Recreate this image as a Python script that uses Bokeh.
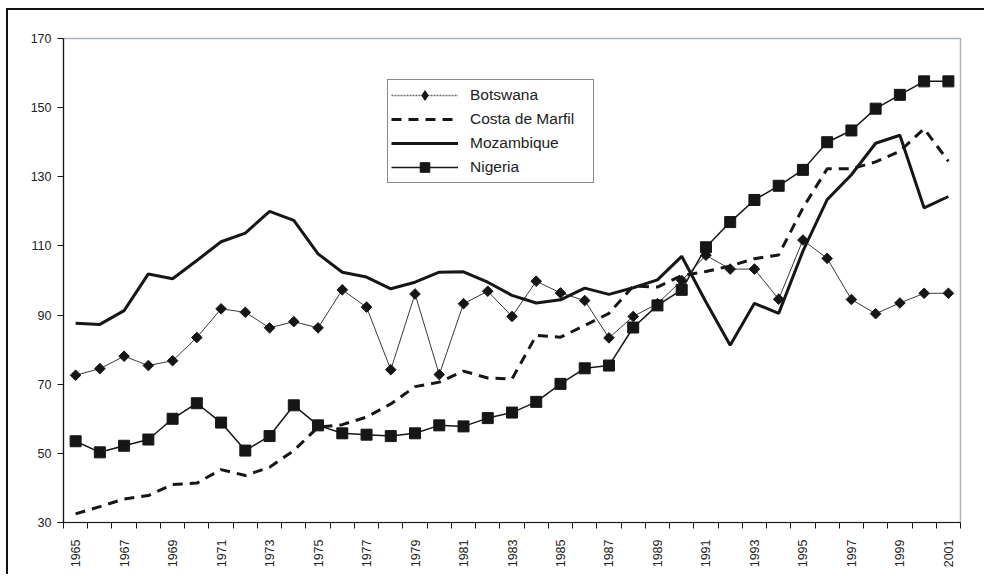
import math
from bokeh.plotting import figure
from bokeh.models import Range1d, FixedTicker, Legend, LegendItem
from bokeh.embed import file_html
from bokeh.resources import INLINE

years = list(range(1965, 2002))

botswana = [72.6, 74.5, 78.1, 75.4, 76.8, 83.5, 91.8, 90.8, 86.3, 88.1,
            86.3, 97.3, 92.3, 74.2, 96.1, 72.8, 93.3, 96.9, 89.6, 99.8,
            96.4, 94.2, 83.4, 89.6, 93.3, 100.0, 107.3, 103.3, 103.3, 94.6,
            111.7, 106.4, 94.5, 90.4, 93.5, 96.3, 96.3]

costa_de_marfil = [32.5, 34.6, 36.8, 37.8, 41.0, 41.4, 45.3, 43.6, 46.0, 50.8,
                   57.6, 58.3, 60.5, 64.3, 69.3, 70.6, 73.8, 71.8, 71.5, 84.1,
                   83.6, 87.0, 90.5, 98.4, 98.1, 101.4, 102.6, 104.2, 106.3, 107.4,
                   121.0, 132.3, 132.3, 134.3, 137.4, 143.9, 134.5]

mozambique = [87.6, 87.3, 91.3, 101.9, 100.5, 105.8, 111.2, 113.7, 120.0, 117.4,
              107.7, 102.4, 101.0, 97.6, 99.5, 102.4, 102.5, 99.5, 95.7, 93.5,
              94.4, 97.8, 96.0, 97.9, 100.2, 107.0, 93.8, 81.3, 93.4, 90.5,
              108.5, 123.4, 130.6, 139.7, 142.0, 121.0, 124.3]

nigeria = [53.5, 50.3, 52.2, 54.0, 60.0, 64.5, 58.9, 50.8, 55.0, 63.9,
           58.1, 55.8, 55.4, 55.0, 55.8, 58.1, 57.8, 60.2, 61.8, 64.9,
           70.1, 74.6, 75.4, 86.4, 92.8, 97.3, 109.6, 116.9, 123.3, 127.4,
           132.0, 140.0, 143.4, 149.7, 153.7, 157.6, 157.6]

x_labels = [y for y in years if (y - 1965) % 2 == 0]
y_ticks = [30, 50, 70, 90, 110, 130, 150, 170]

FONT = "Liberation Sans"
INK = "#161616"

p = figure(width=978, height=566, output_backend="svg", toolbar_location=None,
           x_range=Range1d(years[0] - 0.5, years[-1] + 0.5),
           y_range=Range1d(y_ticks[0], y_ticks[-1]),
           min_border_left=55, min_border_right=26,
           min_border_top=28, min_border_bottom=54)
p.styles = {"margin-left": "6px", "margin-top": "8px",
            "border-left": "2px solid #111", "border-top": "2px solid #111"}

p.xgrid.visible = False
p.ygrid.visible = False
p.outline_line_color = "#aab2ba"
p.outline_line_width = 1.5
p.background_fill_color = "white"
p.border_fill_color = "white"

# x axis: category-style, ticks between categories, labels every other year
p.xaxis.ticker = FixedTicker(ticks=x_labels,
                             minor_ticks=[y - 0.5 for y in years] + [years[-1] + 0.5])
p.xaxis.major_label_overrides = {y: str(y) for y in x_labels}
p.xaxis.major_tick_line_color = None
p.xaxis.major_tick_out = 6
p.xaxis.major_tick_in = 0
p.xaxis.minor_tick_out = 6
p.xaxis.minor_tick_in = 0
p.xaxis.minor_tick_line_color = INK
p.xaxis.axis_line_color = INK
p.xaxis.axis_line_width = 1.2
p.xaxis.major_label_orientation = math.pi / 2
p.xaxis.major_label_standoff = 11

p.yaxis.ticker = FixedTicker(ticks=y_ticks)
p.yaxis.minor_tick_line_color = None
p.yaxis.major_tick_out = 6
p.yaxis.major_tick_in = 0
p.yaxis.major_tick_line_color = INK
p.yaxis.axis_line_color = INK
p.yaxis.axis_line_width = 1.2
p.yaxis.major_label_standoff = 6

for ax in (p.xaxis, p.yaxis):
    ax.major_label_text_font = FONT
    ax.major_label_text_font_size = "12.5px"
    ax.major_label_text_color = "#222222"

# series
b_line = p.line(years, botswana, line_color="#3a3a3a", line_width=1)
b_mark = p.scatter(years, botswana, marker="square", angle=math.pi / 4, size=7.5,
                   fill_color=INK, line_color=INK)

c_line = p.line(years, costa_de_marfil, line_color=INK, line_width=3, line_dash="10 7")

m_line = p.line(years, mozambique, line_color=INK, line_width=3)

n_line = p.line(years, nigeria, line_color=INK, line_width=1.5)
n_mark = p.scatter(years, nigeria, marker="square", size=11, fill_color=INK, line_color=INK)

# legend-only styling for Botswana (dotted grey line + diamond); hidden in the plot
b_leg_line = p.line(years, botswana, line_color="#6a6a6a", line_width=1.5, line_dash="2 1")
b_leg_mark = p.scatter(years, botswana, marker="diamond", fill_color=INK, line_color=INK)
b_leg_line.visible = False
b_leg_mark.visible = False

legend = Legend(items=[
    LegendItem(label="Botswana", renderers=[b_leg_line, b_leg_mark]),
    LegendItem(label="Costa de Marfil", renderers=[c_line]),
    LegendItem(label="Mozambique", renderers=[m_line]),
    LegendItem(label="Nigeria", renderers=[n_line, n_mark]),
], location=(324, 339))
legend.margin = 0
legend.padding = 3
legend.spacing = 0
legend.glyph_width = 67
legend.glyph_height = 24
legend.label_height = 24
legend.label_width = 120
legend.label_standoff = 12
legend.label_text_font = FONT
legend.label_text_font_size = "15.5px"
legend.label_text_color = "#222222"
legend.border_line_color = INK
legend.border_line_width = 1
legend.background_fill_color = "white"
legend.background_fill_alpha = 1
p.add_layout(legend)

open("out.html", "w").write(file_html(p, INLINE))
